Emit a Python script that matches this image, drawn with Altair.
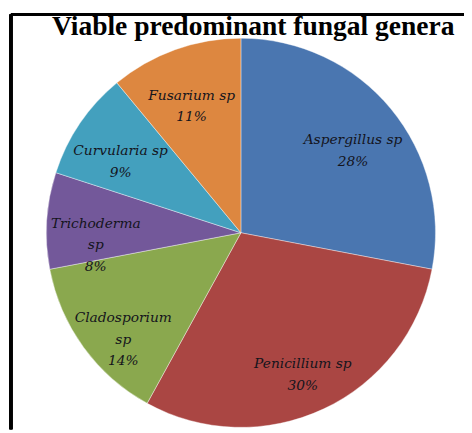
import altair as alt
import pandas as pd

genera = ["Aspergillus sp", "Penicillium sp", "Cladosporium sp",
          "Trichoderma sp", "Curvularia sp", "Fusarium sp"]
percents = [28, 30, 14, 8, 9, 11]
label_names = ["Aspergillus sp", "Penicillium sp", "Cladosporium\nsp",
               "Trichoderma\nsp", "Curvularia sp", "Fusarium sp"]
colors = ["#4A76B0", "#AA4643", "#8AA84E", "#73589A", "#43A0BE", "#DD8740"]

df = pd.DataFrame({
    "genus": genera,
    "value": percents,
    "name": label_names,
    "order": list(range(len(genera))),
})

W, H = 461, 422
CX, CY, R = 234, 222, 198

base = alt.Chart(df).encode(
    theta=alt.Theta("value:Q", stack=True),
    order=alt.Order("order:Q"),
)

pie = base.mark_arc(radius=R, stroke="#ffffff", strokeWidth=0.4).encode(
    x=alt.value(CX), y=alt.value(CY),
    color=alt.Color("genus:N", scale=alt.Scale(domain=genera, range=colors), legend=None),
)

labels = base.transform_calculate(
    label="datum.name + '\\n' + datum.value + '%'"
).mark_text(
    radius=148, font="DejaVu Serif", fontStyle="italic", fontSize=14,
    lineHeight=22, lineBreak="\n", color="#14141c", align="center", baseline="middle",
).encode(x=alt.value(CX), y=alt.value(CY), text="label:N")

frame_top = alt.Chart(df).mark_rule(color="black", strokeWidth=3).encode(
    x=alt.value(0), x2=alt.value(W), y=alt.value(0)
)
frame_left = alt.Chart(df).mark_rule(color="black", strokeWidth=3).encode(
    x=alt.value(0), y=alt.value(0), y2=alt.value(H)
)

chart = alt.layer(pie, labels, frame_top, frame_left).properties(
    width=W, height=H,
    autosize="none",
    padding={"left": 3, "top": 3, "right": 0, "bottom": 0},
    title=alt.Title("Viable predominant fungal genera", font="Liberation Serif",
                    fontSize=28, fontWeight="bold", color="black",
                    offset=-28, dx=16, anchor="middle"),
).configure_view(stroke=None)

chart.save("out.html", embed_options={"renderer": "svg", "actions": False})
